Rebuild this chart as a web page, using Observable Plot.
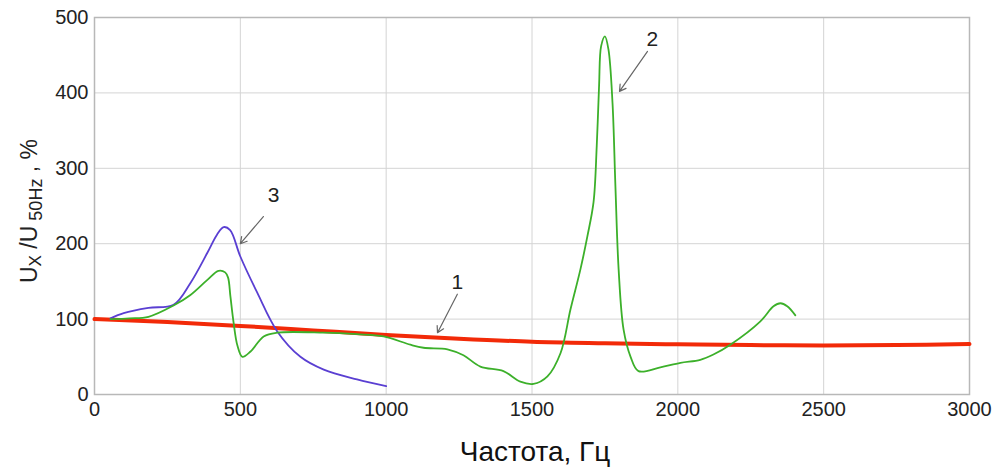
<!DOCTYPE html>
<html>
<head>
<meta charset="utf-8">
<script src="https://cdn.jsdelivr.net/npm/d3@7"></script>
<script src="https://cdn.jsdelivr.net/npm/@observablehq/plot@0.6"></script>
<style>
  html, body { margin: 0; padding: 0; background: #fff; }
  #chart svg { display: block; }
</style>
</head>
<body>
<div id="chart"></div>
<script>
// Curve 1 (red)
const redX = [0, 250, 500, 750, 1000, 1250, 1500, 1750, 2000, 2250, 2500, 2750, 3000];
const redY = [100, 96, 91, 85, 79, 74, 70, 68, 66.5, 65.5, 65, 65.5, 67];

// Curve 3 (blue)
const blueX = [55, 100, 185, 271, 329, 387, 420, 443, 465, 500, 558, 626, 706, 786, 900, 1000];
const blueY = [101, 108, 115, 119, 148, 188, 212, 222, 218, 183, 135, 84, 50, 33, 20, 11];

// Curve 2 (green)
const greenX = [55, 120, 185, 271, 329, 387, 425, 448, 458, 466, 477, 490, 507, 535, 580, 626, 786, 900, 991, 1083, 1128, 1210, 1265, 1323, 1402, 1460, 1505, 1553, 1598, 1632, 1666, 1690, 1711, 1722, 1730, 1737, 1750, 1762, 1776, 1786, 1797, 1814, 1838, 1865, 1940, 2009, 2077, 2122, 2180, 2283, 2328, 2352, 2375, 2403];
const greenY = [100, 101, 103, 118, 132, 152, 164, 162, 155, 130, 95, 65, 50, 57, 77, 82, 82, 80, 77, 66, 62, 60, 52, 37, 31, 17, 14, 24, 55, 113, 166, 210, 255, 330, 410, 462, 475, 458, 387, 276, 166, 86, 50, 31, 36, 42, 46, 53, 66, 97, 117, 121, 117, 105];

// Annotations
const labelText = ["1", "2", "3"];
const labelX = [1244, 1913, 614];
const labelY = [149, 471, 264];
const arrowX1 = [1244, 1896, 579];
const arrowY1 = [133, 455, 236];
const arrowX2 = [1176, 1800, 500];
const arrowY2 = [82, 402, 200];

const xTicks = [0, 500, 1000, 1500, 2000, 2500, 3000];
const yTicks = [0, 100, 200, 300, 400, 500];

const toRows = (xs, ys) => xs.map((x, i) => ({x, y: ys[i]}));
const red = toRows(redX, redY);
const blue = toRows(blueX, blueY);
const green = toRows(greenX, greenY);
const labels = labelText.map((t, i) => ({t, x: labelX[i], y: labelY[i]}));
const arrows = arrowX1.map((x1, i) => ({x1, y1: arrowY1[i], x2: arrowX2[i], y2: arrowY2[i]}));

const W = 997, H = 470;
const plot = Plot.plot({
  width: W,
  height: H,
  marginLeft: 94,
  marginRight: 28,
  marginTop: 17,
  marginBottom: 76,
  style: {fontFamily: "'Liberation Sans', Arial, sans-serif", background: "#fff", color: "#222"},
  x: {domain: [0, 3000], ticks: xTicks},
  y: {domain: [0, 500], ticks: yTicks},
  marks: [
    Plot.gridX(xTicks, {stroke: "#d4d4d4", strokeOpacity: 1}),
    Plot.gridY(yTicks, {stroke: "#d4d4d4", strokeOpacity: 1}),
    Plot.frame({stroke: "#b8b8b8", strokeWidth: 1.5}),
    Plot.axisX(xTicks, {tickSize: 0, tickPadding: 7, fontSize: 20, label: null, fill: "#222", tickFormat: d3.format("d")}),
    Plot.axisY(yTicks, {tickSize: 0, tickPadding: 6, fontSize: 20, label: null, fill: "#222", tickFormat: d3.format("d")}),
    Plot.line(red, {x: "x", y: "y", stroke: "#f22a08", strokeWidth: 4, curve: "catmull-rom"}),
    Plot.line(blue, {x: "x", y: "y", stroke: "#5a3fd2", strokeWidth: 1.8, curve: "catmull-rom"}),
    Plot.line(green, {x: "x", y: "y", stroke: "#3cb02a", strokeWidth: 1.8, curve: "catmull-rom"}),
    Plot.arrow(arrows, {x1: "x1", y1: "y1", x2: "x2", y2: "y2", stroke: "#666", strokeWidth: 1.2, headLength: 9, bend: 0}),
    Plot.text(labels, {x: "x", y: "y", text: "t", fontSize: 21, fill: "#222"})
  ]
});

const svg = d3.select(plot);
// x-axis title
svg.append("text")
  .attr("x", 535).attr("y", 461)
  .attr("text-anchor", "middle")
  .style("font-family", "'Liberation Sans Narrow', 'Liberation Sans', Arial, sans-serif")
  .style("font-size", "28px")
  .attr("fill", "#111")
  .text("Частота, Гц");

// y-axis title with subscripts
const yl = svg.append("text")
  .attr("transform", "translate(37,211) rotate(-90)")
  .attr("text-anchor", "middle")
  .style("font-family", "'Liberation Sans', Arial, sans-serif")
  .style("font-size", "23px")
  .attr("fill", "#222");
yl.append("tspan").text("U");
yl.append("tspan").attr("baseline-shift", "-25%").style("font-size", "17px").text("X");
yl.append("tspan").text(" /U");
yl.append("tspan").attr("baseline-shift", "-25%").style("font-size", "18px").text(" 50Hz");
yl.append("tspan").text(" , %");

document.getElementById("chart").appendChild(plot);
</script>
</body>
</html>
